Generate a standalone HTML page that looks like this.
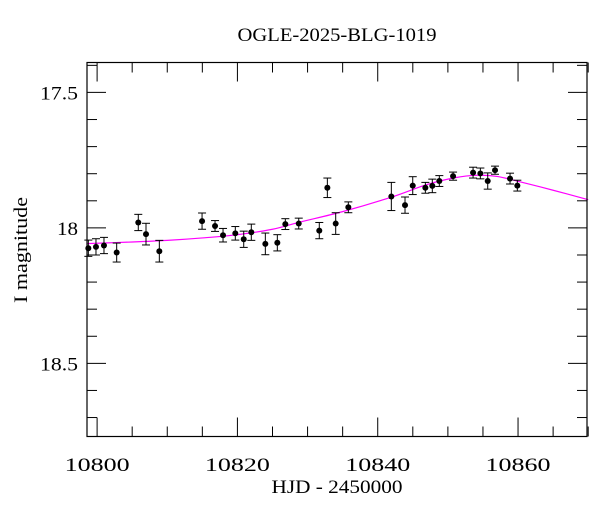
<!DOCTYPE html>
<html><head><meta charset="utf-8"><style>
body{margin:0;background:#fff}
svg{display:block;font-family:"Liberation Serif",serif}
</style></head><body>
<svg id="chart" width="600" height="512" viewBox="0 0 600 512" xmlns="http://www.w3.org/2000/svg">
<text x="337" y="41" font-size="19" text-anchor="middle" textLength="199" lengthAdjust="spacingAndGlyphs">OGLE-2025-BLG-1019</text>
<text x="337" y="493" font-size="19" text-anchor="middle" textLength="131" lengthAdjust="spacingAndGlyphs">HJD - 2450000</text>
<text x="0" y="0" font-size="19" text-anchor="middle" textLength="106" lengthAdjust="spacingAndGlyphs" transform="translate(27,250) rotate(-90)">I magnitude</text>
<g id="ticks"></g><g id="model"></g><g id="points"></g>
<rect x="87" y="62.5" width="500" height="374" fill="none" stroke="#000" stroke-width="1.2"/>
</svg>
<script>
const days=[10798.75,10799.84,10800.98,10802.79,10805.87,10806.97,10808.87,10814.96,10816.81,10817.95,10819.70,10820.90,10821.98,10823.98,10825.69,10826.83,10828.74,10831.67,10832.82,10834.01,10835.81,10841.94,10843.89,10844.99,10846.79,10847.78,10848.78,10850.74,10853.59,10854.63,10855.68,10856.72,10858.86,10859.90];
const mags=[18.075,18.070,18.065,18.091,17.980,18.023,18.086,17.975,17.993,18.027,18.020,18.042,18.016,18.059,18.055,17.986,17.984,18.010,17.852,17.984,17.924,17.884,17.916,17.844,17.852,17.845,17.827,17.809,17.796,17.799,17.827,17.787,17.818,17.844];
const errs=[0.03,0.03,0.03,0.035,0.03,0.04,0.04,0.03,0.02,0.025,0.025,0.03,0.03,0.04,0.03,0.02,0.02,0.03,0.036,0.04,0.02,0.052,0.03,0.033,0.02,0.025,0.02,0.015,0.02,0.02,0.03,0.015,0.02,0.02];
const modelDays=[10798.5,10805,10810,10815,10820,10825,10829,10835,10842,10847,10851,10854,10857,10860,10865,10870];
const modelMags=[18.058,18.052,18.046,18.037,18.025,18.005,17.978,17.94,17.886,17.84,17.815,17.806,17.81,17.828,17.861,17.896];
const xTickLabels=[10800,10820,10840,10860];
const yTickLabels=[17.5,18,18.5];
const X0=87,X1=587,Y0=62.5,Y1=436.5,D0=10798.56,D1=10869.83,M0=17.3895,M1=18.77;
const x=d=>X0+(d-D0)/(D1-D0)*(X1-X0);
const y=m=>Y0+(m-M0)/(M1-M0)*(Y1-Y0);
const NS="http://www.w3.org/2000/svg";
function mk(t,a,p){const e=document.createElementNS(NS,t);for(const k in a)e.setAttribute(k,a[k]);p.appendChild(e);return e;}
const tk=document.getElementById('ticks');
for(let d=10800;d<=10870;d+=5){const xx=x(d);const L=(d%20===0)?19:10;
 const t1=mk('line',{x1:xx,x2:xx,y1:Y1,y2:Y1-L,stroke:'#000'},tk);
 
 
 const t2=mk('line',{x1:xx,x2:xx,y1:Y0,y2:Y0+L,stroke:'#000'},tk);
 
 }
xTickLabels.forEach(v=>{const t=mk('text',{x:x(v),y:471,'font-size':19,'text-anchor':'middle',textLength:65,lengthAdjust:'spacingAndGlyphs'},tk);t.textContent=v;
 
 });
for(let v=17.4;v<=18.71;v+=0.1){const yy=y(v);const L=(Math.abs(v*2-Math.round(v*2))<1e-6)?19:10;
 const a=mk('line',{x1:X0,x2:X0+L,y1:yy,y2:yy,stroke:'#000'},tk);
 
 
 const b=mk('line',{x1:X1,x2:X1-L,y1:yy,y2:yy,stroke:'#000'},tk);
 
 }
yTickLabels.forEach(v=>{const s=String(v);const t=mk('text',{x:78,y:y(v)+7,'font-size':19,'text-anchor':'end',textLength:(s.length>2?38:21),lengthAdjust:'spacingAndGlyphs'},tk);t.textContent=s;
 
 });
const P=modelDays.map((d,i)=>[x(d),y(modelMags[i])]);
let path='M'+P[0][0]+','+P[0][1];
for(let i=0;i<P.length-1;i++){const p0=P[i-1]||P[i],p1=P[i],p2=P[i+1],p3=P[i+2]||p2;
 path+=' C'+(p1[0]+(p2[0]-p0[0])/6)+','+(p1[1]+(p2[1]-p0[1])/6)+' '+(p2[0]-(p3[0]-p1[0])/6)+','+(p2[1]-(p3[1]-p1[1])/6)+' '+p2[0]+','+p2[1];}
const g=document.getElementById('model');
const mp=mk('path',{d:path,fill:'none',stroke:'#ff00ff','stroke-width':1.2},g);


const pg=document.getElementById('points');
days.forEach((d,i)=>{const xx=x(d),yt=y(mags[i]-errs[i]),yb=y(mags[i]+errs[i]);
 const grp=mk('g',{},pg);
 
 
 mk('line',{x1:xx,x2:xx,y1:yt,y2:yb,stroke:'#000'},grp);
 mk('line',{x1:xx-4,x2:xx+4,y1:yt,y2:yt,stroke:'#000'},grp);
 mk('line',{x1:xx-4,x2:xx+4,y1:yb,y2:yb,stroke:'#000'},grp);
 mk('circle',{cx:xx,cy:y(mags[i]),r:3,fill:'#000'},grp);});
</script>
</body></html>
